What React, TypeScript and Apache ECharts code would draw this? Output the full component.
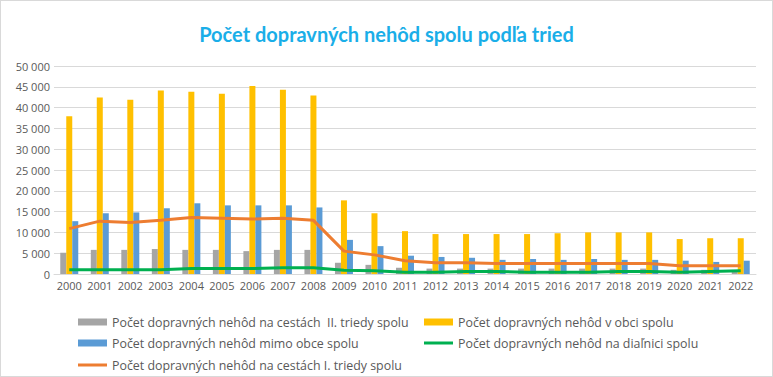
import React, { useEffect, useRef } from "react";
import * as echarts from "echarts";

const years = ["2000","2001","2002","2003","2004","2005","2006","2007","2008","2009","2010","2011","2012","2013","2014","2015","2016","2017","2018","2019","2020","2021","2022"];
const triedaII = [5100,5800,5800,6000,5800,5800,5500,5800,5800,2700,2200,1500,1300,1300,1300,1300,1300,1300,1300,1300,1000,1000,700];
const vObci = [37900,42400,41900,44100,43800,43300,45200,44300,42900,17700,14600,10300,9600,9600,9600,9600,9800,10000,10000,10000,8400,8600,8600];
const mimoObce = [12700,14600,14800,15800,17000,16500,16500,16500,16000,8200,6700,4400,4100,3900,3400,3600,3400,3600,3400,3400,3200,2900,3200];
const dialnica = [1000,1000,1000,1000,1300,1300,1300,1500,1500,900,800,400,400,600,600,400,400,400,600,600,400,600,800];
const triedaI = [10900,12700,12400,12900,13600,13400,13200,13400,12900,5500,4600,3200,2700,2700,2500,2500,2500,2500,2500,2500,2000,2000,2000];

const names = {
  ii: "Počet dopravných nehôd na cestách  II. triedy spolu",
  obec: "Počet dopravných nehôd v obci spolu",
  mimo: "Počet dopravných nehôd mimo obce spolu",
  dial: "Počet dopravných nehôd na diaľnici spolu",
  i: "Počet dopravných nehôd na cestách I. triedy spolu",
};

const FONT = "'Open Sans', sans-serif";

export default function App() {
  const ref = useRef<HTMLDivElement>(null);
  useEffect(() => {
    if (!ref.current) return;
    const chart = echarts.init(ref.current, undefined, { renderer: "svg" });
    const legendText = { color: "#595959", fontSize: 12.4, fontFamily: FONT };
    const leg = (name: string, left: number, top: number, isLine: boolean) => ({
      left, top, itemWidth: 29, itemHeight: isLine ? 3 : 7, itemGap: 5,
      icon: "rect",
      data: [{ name, icon: "rect" }],
      textStyle: legendText,
    });
    chart.setOption({
      animation: false,
      title: {
        text: "Počet dopravných nehôd spolu podľa tried",
        left: "center",
        top: 18,
        textStyle: { color: "#1aaee8", fontSize: 20, fontWeight: "bold", fontFamily: "Lato, sans-serif" },
      },
      grid: { left: 53, right: 16, top: 65, bottom: 102 },
      legend: [
        leg(names.ii, 72, 310, false),
        leg(names.mimo, 72, 331, false),
        leg(names.i, 72, 353, true),
        leg(names.obec, 418, 310, false),
        leg(names.dial, 418, 331, true),
      ],
      xAxis: {
        type: "category",
        data: years,
        boundaryGap: true,
        axisLine: { lineStyle: { color: "#d9d9d9" } },
        axisTick: { show: false },
        axisLabel: { color: "#595959", fontSize: 11, fontFamily: FONT, margin: 6, interval: 0 },
      },
      yAxis: {
        type: "value",
        min: 0, max: 50000, interval: 5000,
        axisLine: { show: false },
        axisTick: { show: false },
        splitLine: { lineStyle: { color: "#d9d9d9" } },
        axisLabel: {
          color: "#595959", fontSize: 11, fontFamily: FONT, margin: 4,
          formatter: (v: number) => String(v).replace(/\B(?=(\d{3})+(?!\d))/g, " "),
        },
      },
      series: [
        { name: names.ii, type: "bar", data: triedaII, barWidth: 6, barGap: "0%", itemStyle: { color: "#a5a5a5" } },
        { name: names.obec, type: "bar", data: vObci, barWidth: 6, barGap: "0%", itemStyle: { color: "#ffc000" } },
        { name: names.mimo, type: "bar", data: mimoObce, barWidth: 6, barGap: "0%", itemStyle: { color: "#5b9bd5" } },
        { name: names.i, type: "line", data: triedaI, symbol: "none", lineStyle: { color: "#ed7d31", width: 3 }, itemStyle: { color: "#ed7d31" } },
        { name: names.dial, type: "line", data: dialnica, symbol: "none", lineStyle: { color: "#00b050", width: 3 }, itemStyle: { color: "#00b050" } },
      ],
    });
    return () => chart.dispose();
  }, []);
  return (
    <div style={{ position: "fixed", left: 0, top: 0, width: 773, height: 377, boxSizing: "border-box", border: "1px solid #d9d9d9", background: "#fff" }}>
      <div ref={ref} style={{ width: 771, height: 375 }} />
    </div>
  );
}
